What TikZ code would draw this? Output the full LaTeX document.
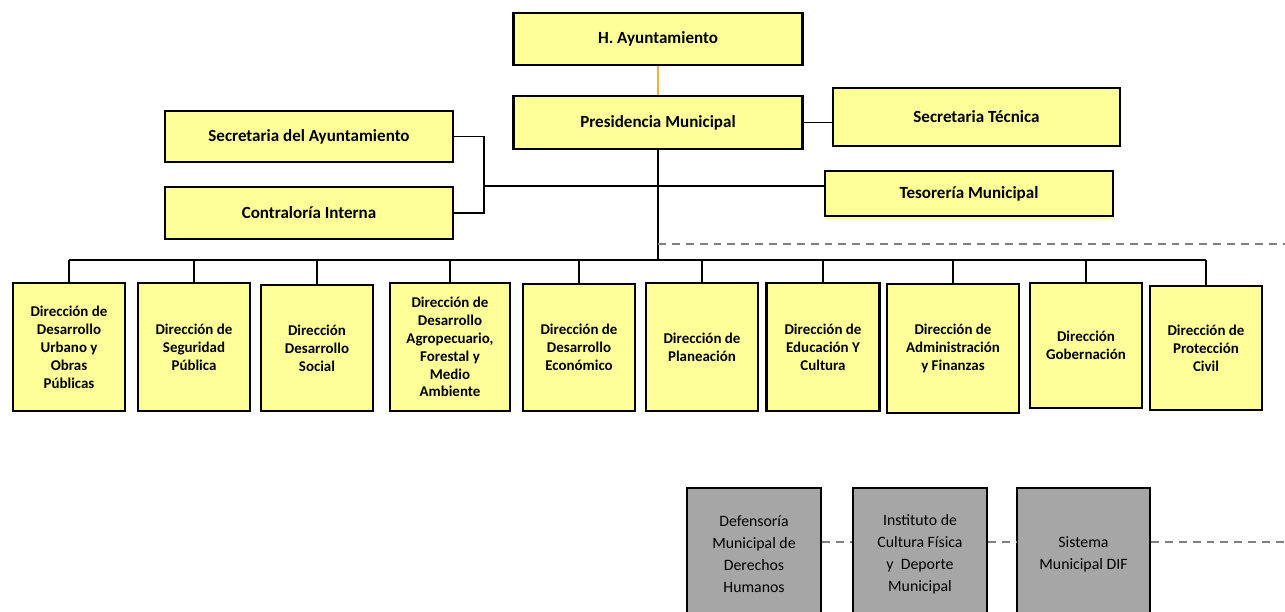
\documentclass[tikz,border=0pt]{standalone}
\usepackage{fontspec}
\setmainfont{Carlito}
\usetikzlibrary{shadows}
\definecolor{boxyellow}{HTML}{FFFF99}
\definecolor{boxgray}{HTML}{A6A6A6}
\definecolor{linkorange}{HTML}{F2B134}
\definecolor{dashgray}{HTML}{808080}

\begin{document}
\begin{tikzpicture}[x=0.02cm,y=-0.02cm,
  ybox/.style={draw,line width=1.6pt,fill=boxyellow,align=center,inner sep=2pt,
    drop shadow={opacity=0.25,shadow xshift=0.6pt,shadow yshift=-0.6pt},
    font=\bfseries\fontsize{9.7}{11}\selectfont},
  dbox/.style={ybox,font=\bfseries\fontsize{8.5}{10.2}\selectfont,minimum width=2.24cm,minimum height=2.56cm},
  gbox/.style={draw,line width=1.2pt,fill=boxgray,align=center,minimum width=2.68cm,minimum height=2.64cm,
    font=\fontsize{9}{12.5}\selectfont},
  conn/.style={line width=1.1pt},
  dsh/.style={dashgray,line width=1.1pt,dash pattern=on 4.5pt off 3.4pt}]
\useasboundingbox (0,0) rectangle (1285,612);

\node[ybox,minimum width=5.78cm,minimum height=1.04cm] (ayun) at (658,39) {H. Ayuntamiento};
\node[ybox,minimum width=5.78cm,minimum height=1.06cm] (pres) at (658,122.5) {Presidencia Municipal};
\node[ybox,minimum width=5.74cm,minimum height=1.16cm] (sectec) at (976.5,117) {Secretaria Técnica};
\node[ybox,minimum width=5.76cm,minimum height=1.02cm] (secayun) at (309,136.5) {Secretaria del Ayuntamiento};
\node[ybox,minimum width=5.76cm,minimum height=1.04cm] (contra) at (309,213) {Contraloría Interna};
\node[ybox,minimum width=5.76cm,minimum height=0.9cm,
  drop shadow={color=boxyellow,opacity=0.8,shadow xshift=0pt,shadow yshift=-2pt}] (teso) at (969,193.5) {Tesorería Municipal};

\node[dbox] (d1) at (69,347) {Dirección de\\Desarrollo\\Urbano y\\Obras\\Públicas};
\node[dbox] (d2) at (194,347) {Dirección de\\Seguridad\\Pública};
\node[dbox,minimum height=2.52cm] (d3) at (317,348) {Dirección\\Desarrollo\\Social};
\node[dbox,minimum width=2.4cm] (d4) at (450,347) {Dirección de\\Desarrollo\\Agropecuario,\\Forestal y\\Medio\\Ambiente};
\node[dbox,minimum height=2.54cm] (d5) at (579,347.5) {Dirección de\\Desarrollo\\Económico};
\node[dbox] (d6) at (702,347) {Dirección de\\Planeación};
\node[dbox,minimum width=2.26cm] (d7) at (823,347) {Dirección de\\Educación Y\\Cultura};
\node[dbox,minimum width=2.64cm,minimum height=2.58cm] (d8) at (953,348.5) {Dirección de\\Administración\\y Finanzas};
\node[dbox,minimum height=2.5cm] (d9) at (1086,345.5) {Dirección\\Gobernación};
\node[dbox,minimum height=2.48cm] (d10) at (1206,348) {Dirección de\\Protección\\Civil};

\node[gbox] (g1) at (754,554) {Defensoría\\Municipal de\\Derechos\\Humanos};
\node[gbox] (g2) at (920,554) {Instituto de\\Cultura Física\\y\ \ Deporte\\Municipal};
\node[gbox,minimum width=2.66cm] (g3) at (1083.5,554) {Sistema\\Municipal DIF};

\coordinate (brk) at (484,186);
\coordinate (bus) at (658,260);
\coordinate (dshstart) at (658,244);
\coordinate (dshend) at (1285,244);
\coordinate (gend) at (1285,542);

\draw[linkorange,line width=1pt] (ayun.south) -- (pres.north);
\draw[conn] (pres.east) -- (pres.east -| sectec.west);
\draw[conn] (secayun.east) -| (brk) |- (contra.east);
\draw[conn] (brk) -- (brk -| teso.west);
\draw[conn] (pres.south) -- (bus);
\draw[conn] (d1.north |- bus) -- (d10.north |- bus);
\foreach \n in {d1,d2,d3,d4,d5,d6,d7,d8,d9,d10}
  \draw[conn] (\n.north) -- (\n.north |- bus);
\draw[dsh] (dshstart) -- (dshend);
\draw[dsh] (g1.east |- gend) -- (g2.west |- gend);
\draw[dsh] (g2.east |- gend) -- (g3.west |- gend);
\draw[dsh] (g3.east |- gend) -- (gend);
\end{tikzpicture}
\end{document}
